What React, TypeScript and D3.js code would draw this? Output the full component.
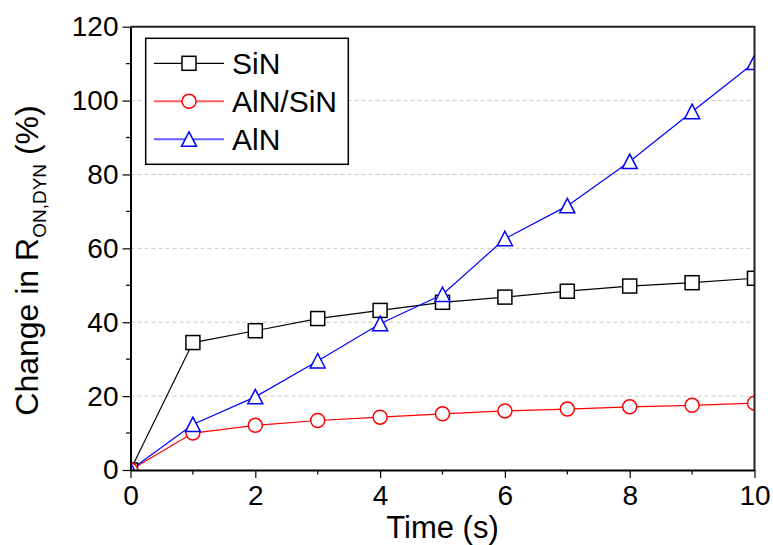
import React, { useEffect, useRef } from 'react';
import { select, scaleLinear, axisBottom, axisLeft, line, range } from 'd3';

const timeS = [0, 1, 2, 3, 4, 5, 6, 7, 8, 9, 10];
const sinValues = [0, 34.5, 37.7, 41.0, 43.2, 45.4, 46.8, 48.4, 49.8, 50.7, 51.9];
const alnSinValues = [0, 10.0, 12.1, 13.4, 14.3, 15.2, 16.0, 16.5, 17.1, 17.5, 18.1];
const alnValues = [0, 12.3, 19.8, 29.5, 39.6, 47.5, 62.6, 71.5, 83.5, 97.0, 110.3];
const seriesNames = ['SiN', 'AlN/SiN', 'AlN'];
const xTicks = [0, 2, 4, 6, 8, 10];
const yTicks = [0, 20, 40, 60, 80, 100, 120];

const W = 773;
const H = 545;
const FONT = "'Liberation Sans', Arial, sans-serif";

export default function App() {
  const svgRef = useRef<SVGSVGElement>(null);

  useEffect(() => {
    const svg = select(svgRef.current);
    svg.selectAll('*').remove();

    const left = 130.5, right = 754.5, top = 26.7, bottom = 470;
    const x = scaleLinear().domain([0, 10]).range([left, right]);
    const y = scaleLinear().domain([0, 120]).range([bottom, top]);

    const series = [
      { name: seriesNames[0], values: sinValues, color: '#000000', legendColor: '#000000', marker: 'square' },
      { name: seriesNames[1], values: alnSinValues, color: '#ff0000', legendColor: '#ff6060', marker: 'circle' },
      { name: seriesNames[2], values: alnValues, color: '#0000ff', legendColor: '#6060ff', marker: 'triangle' },
    ];

    svg
      .append('defs')
      .append('clipPath')
      .attr('id', 'plot-clip')
      .append('rect')
      .attr('x', left)
      .attr('y', top)
      .attr('width', right - left)
      .attr('height', bottom - top);

    // dashed grid
    svg
      .append('g')
      .selectAll('line')
      .data(yTicks.filter((t) => t > 0 && t < 120))
      .join('line')
      .attr('x1', left)
      .attr('x2', right)
      .attr('y1', (d) => y(d))
      .attr('y2', (d) => y(d))
      .attr('stroke', '#c8c8c8')
      .attr('stroke-width', 1)
      .attr('stroke-dasharray', '4,3');

    const drawMarker = (g, kind, color, s) => {
      if (kind === 'square') {
        g.append('rect')
          .attr('x', -s / 2)
          .attr('y', -s / 2)
          .attr('width', s)
          .attr('height', s)
          .attr('fill', 'white')
          .attr('stroke', color)
          .attr('stroke-width', 1.5);
      } else if (kind === 'circle') {
        g.append('circle')
          .attr('r', s / 2)
          .attr('fill', 'white')
          .attr('stroke', color)
          .attr('stroke-width', 1.5);
      } else {
        const h = s / 2;
        g.append('path')
          .attr('d', `M0,${-h - 0.5}L${h + 0.5},${h}L${-h - 0.5},${h}Z`)
          .attr('fill', 'white')
          .attr('stroke', color)
          .attr('stroke-width', 1.5);
      }
    };

    const plot = svg.append('g').attr('clip-path', 'url(#plot-clip)');
    const lineGen = line<number>()
      .x((d, i) => x(timeS[i]))
      .y((d) => y(d));

    series.forEach((s) => {
      plot
        .append('path')
        .attr('d', lineGen(s.values))
        .attr('fill', 'none')
        .attr('stroke', s.color)
        .attr('stroke-width', 1.2);
    });
    series.forEach((s) => {
      s.values.forEach((v, i) => {
        const g = plot.append('g').attr('transform', `translate(${x(timeS[i])},${y(v)})`);
        drawMarker(g, s.marker, s.color, 14);
      });
    });

    // axes
    const xAxis = svg.append('g').attr('transform', `translate(0,${bottom})`);
    xAxis.call(axisBottom(x).tickValues(xTicks).tickSize(8).tickSizeOuter(0).tickPadding(6).tickFormat((d) => `${d}`));
    xAxis
      .selectAll('.minor')
      .data(range(1, 10, 2))
      .join('line')
      .attr('class', 'minor')
      .attr('x1', (d) => x(d))
      .attr('x2', (d) => x(d))
      .attr('y1', 0)
      .attr('y2', 4.5)
      .attr('stroke', 'black')
      .attr('stroke-width', 1.2);

    const yAxis = svg.append('g').attr('transform', `translate(${left},0)`);
    yAxis.call(axisLeft(y).tickValues(yTicks).tickSize(8).tickSizeOuter(0).tickPadding(4));
    yAxis
      .selectAll('.minor')
      .data(range(10, 120, 20))
      .join('line')
      .attr('class', 'minor')
      .attr('x1', 0)
      .attr('x2', -4.5)
      .attr('y1', (d) => y(d))
      .attr('y2', (d) => y(d))
      .attr('stroke', 'black')
      .attr('stroke-width', 1.2);

    [xAxis, yAxis].forEach((g) => {
      g.select('.domain').attr('stroke', 'black').attr('stroke-width', 2);
      g.selectAll('.tick line').attr('stroke', 'black').attr('stroke-width', 1.2);
      g.selectAll('.tick text').attr('font-family', FONT).attr('font-size', 28).attr('fill', 'black');
    });
    xAxis.selectAll('.tick text').attr('dy', '0.75em');

    // frame top/right
    svg
      .append('path')
      .attr('d', `M${left},${top}H${right}V${bottom}`)
      .attr('fill', 'none')
      .attr('stroke', '#222')
      .attr('stroke-width', 2);

    // axis titles
    svg
      .append('text')
      .attr('x', (left + right) / 2)
      .attr('y', 538)
      .attr('text-anchor', 'middle')
      .attr('font-family', FONT)
      .attr('font-size', 31)
      .text('Time (s)');

    const yt = svg
      .append('text')
      .attr('transform', `translate(38,260.5) rotate(-90)`)
      .attr('text-anchor', 'middle')
      .attr('font-family', FONT)
      .attr('font-size', 32);
    yt.append('tspan').text('Change in R');
    yt.append('tspan').attr('font-size', 19).attr('dy', 8).text('ON,DYN');
    yt.append('tspan').attr('dy', -8).text(' (%)');

    // legend
    const lg = svg.append('g');
    lg.append('rect')
      .attr('x', 145.7)
      .attr('y', 38.3)
      .attr('width', 202.6)
      .attr('height', 126)
      .attr('fill', 'white')
      .attr('stroke', 'black')
      .attr('stroke-width', 1.5);
    series.forEach((s, i) => {
      const cy = 63.3 + i * 38;
      lg.append('line')
        .attr('x1', 154)
        .attr('x2', 224)
        .attr('y1', cy)
        .attr('y2', cy)
        .attr('stroke', s.legendColor)
        .attr('stroke-width', i === 0 ? 1.2 : 2);
      const m = lg.append('g').attr('transform', `translate(189,${cy})`);
      drawMarker(m, s.marker, s.color, 14);
      lg.append('text')
        .attr('x', 232)
        .attr('y', cy + 11)
        .attr('font-family', FONT)
        .attr('font-size', 30)
        .text(s.name);
    });
  }, []);

  return (
    <svg
      ref={svgRef}
      width={W}
      height={H}
      style={{ position: 'absolute', left: 0, top: 0, background: 'white' }}
    />
  );
}
